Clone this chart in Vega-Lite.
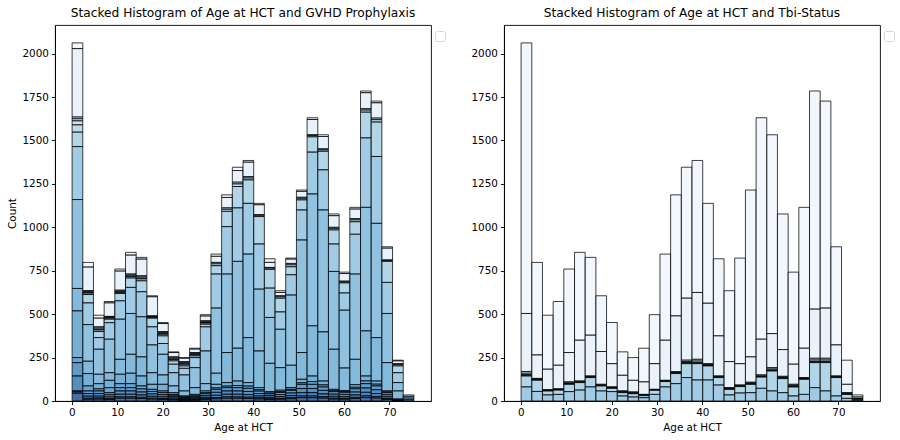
{
"$schema": "https://vega.github.io/schema/vega-lite/v6.json",
"padding": {"left": 7, "top": 6, "right": 5, "bottom": 5},
"background": "white",
"spacing": 73,
"bounds": "flush",
"resolve": {"legend": {"opacity": "independent"}, "scale": {"opacity": "independent"}},
"config": {
 "view": {"stroke": "#000", "strokeWidth": 0.9},
 "axis": {"domainColor": "#000", "tickColor": "#000", "labelColor": "#000", "titleColor": "#000", "labelFont": "DejaVu Sans", "titleFont": "DejaVu Sans", "labelFontSize": 10.4, "titleFontSize": 10.4, "titleFontWeight": "normal", "tickSize": 3.6, "labelPadding": 3, "grid": false, "domainWidth": 0.9, "tickWidth": 0.9},
 "title": {"font": "DejaVu Sans", "fontSize": 12.2, "fontWeight": "normal", "color": "#000", "offset": 6}
},
"datasets": {
 "bins": [
  {"bin":0,"age_start":0.04,"age_end":2.4},{"bin":1,"age_start":2.4,"age_end":4.75},{"bin":2,"age_start":4.75,"age_end":7.11},{"bin":3,"age_start":7.11,"age_end":9.46},{"bin":4,"age_start":9.46,"age_end":11.82},{"bin":5,"age_start":11.82,"age_end":14.17},{"bin":6,"age_start":14.17,"age_end":16.53},{"bin":7,"age_start":16.53,"age_end":18.88},{"bin":8,"age_start":18.88,"age_end":21.24},{"bin":9,"age_start":21.24,"age_end":23.59},{"bin":10,"age_start":23.59,"age_end":25.95},{"bin":11,"age_start":25.95,"age_end":28.3},{"bin":12,"age_start":28.3,"age_end":30.66},{"bin":13,"age_start":30.66,"age_end":33.01},{"bin":14,"age_start":33.01,"age_end":35.37},{"bin":15,"age_start":35.37,"age_end":37.72},{"bin":16,"age_start":37.72,"age_end":40.08},{"bin":17,"age_start":40.08,"age_end":42.43},{"bin":18,"age_start":42.43,"age_end":44.79},{"bin":19,"age_start":44.79,"age_end":47.14},{"bin":20,"age_start":47.14,"age_end":49.5},{"bin":21,"age_start":49.5,"age_end":51.85},{"bin":22,"age_start":51.85,"age_end":54.21},{"bin":23,"age_start":54.21,"age_end":56.56},{"bin":24,"age_start":56.56,"age_end":58.92},{"bin":25,"age_start":58.92,"age_end":61.27},{"bin":26,"age_start":61.27,"age_end":63.63},{"bin":27,"age_start":63.63,"age_end":65.98},{"bin":28,"age_start":65.98,"age_end":68.34},{"bin":29,"age_start":68.34,"age_end":70.69},{"bin":30,"age_start":70.69,"age_end":73.05},{"bin":31,"age_start":73.05,"age_end":75.4}
 ],
 "gvhd_names": [
  {"cat":1,"name":"FKalone"},{"cat":2,"name":"CSA + MTX +- others(not MMF,FK)"},{"cat":3,"name":"CSA alone"},{"cat":4,"name":"No GvHD Prophylaxis"},{"cat":5,"name":"CDselect +- other"},{"cat":6,"name":"TDEPLETION alone"},{"cat":7,"name":"Other GVHD Prophylaxis"},{"cat":8,"name":"Cyclophosphamide +- others"},{"cat":9,"name":"FK+ MMF +- others"},{"cat":10,"name":"FK+ MTX +- others(not MMF)"},{"cat":11,"name":"TDEPLETION +- other"},{"cat":12,"name":"CSA + MMF +- others(not FK)"},{"cat":13,"name":"Parent Q = yes, but no agent"},{"cat":14,"name":"CDselect alone"},{"cat":15,"name":"FK+- others(not MMF,MTX)"},{"cat":16,"name":"CSA +- others(not FK,MMF,MTX)"},{"cat":17,"name":"Cyclophosphamide alone"}
 ],
 "tbi_names": [
  {"cat":1,"name":"No TBI"},{"cat":2,"name":"TBI + Cy +- Other"},{"cat":3,"name":"TBI +- Other, <=cGy"},{"cat":4,"name":"TBI +- Other, >cGy"},{"cat":5,"name":"TBI +- Other, -cGy, single"},{"cat":6,"name":"TBI +- Other, -cGy, unknown dose"},{"cat":7,"name":"TBI +- Other, -cGy, fractionated"},{"cat":8,"name":"TBI +- Other, unknown dose"}
 ],
 "gvhd": [
{"bin":0,"cat":1,"n":33},{"bin":0,"cat":2,"n":394},{"bin":0,"cat":3,"n":10},{"bin":0,"cat":4,"n":12},{"bin":0,"cat":5,"n":23},{"bin":0,"cat":6,"n":42},{"bin":0,"cat":7,"n":83},{"bin":0,"cat":8,"n":305},{"bin":0,"cat":9,"n":512},{"bin":0,"cat":10,"n":129},{"bin":0,"cat":11,"n":269},{"bin":0,"cat":12,"n":29},{"bin":0,"cat":13,"n":77},{"bin":0,"cat":14,"n":86},{"bin":0,"cat":15,"n":5},{"bin":0,"cat":16,"n":8},{"bin":0,"cat":17,"n":45},
{"bin":1,"cat":1,"n":27},{"bin":1,"cat":2,"n":135},{"bin":1,"cat":3,"n":6},{"bin":1,"cat":4,"n":6},{"bin":1,"cat":5,"n":3},{"bin":1,"cat":6,"n":8},{"bin":1,"cat":7,"n":48},{"bin":1,"cat":8,"n":125},{"bin":1,"cat":9,"n":211},{"bin":1,"cat":10,"n":71},{"bin":1,"cat":11,"n":71},{"bin":1,"cat":12,"n":29},{"bin":1,"cat":13,"n":15},{"bin":1,"cat":14,"n":15},{"bin":1,"cat":15,"n":12},{"bin":1,"cat":16,"n":6},{"bin":1,"cat":17,"n":10},
{"bin":2,"cat":1,"n":17},{"bin":2,"cat":2,"n":50},{"bin":2,"cat":3,"n":7},{"bin":2,"cat":4,"n":7},{"bin":2,"cat":5,"n":4},{"bin":2,"cat":6,"n":9},{"bin":2,"cat":7,"n":35},{"bin":2,"cat":8,"n":67},{"bin":2,"cat":9,"n":144},{"bin":2,"cat":10,"n":54},{"bin":2,"cat":11,"n":30},{"bin":2,"cat":12,"n":12},{"bin":2,"cat":13,"n":15},{"bin":2,"cat":14,"n":15},{"bin":2,"cat":15,"n":11},{"bin":2,"cat":16,"n":6},{"bin":2,"cat":17,"n":11},
{"bin":3,"cat":1,"n":8},{"bin":3,"cat":2,"n":78},{"bin":3,"cat":3,"n":4},{"bin":3,"cat":4,"n":4},{"bin":3,"cat":5,"n":2},{"bin":3,"cat":6,"n":6},{"bin":3,"cat":7,"n":20},{"bin":3,"cat":8,"n":95},{"bin":3,"cat":9,"n":193},{"bin":3,"cat":10,"n":44},{"bin":3,"cat":11,"n":42},{"bin":3,"cat":12,"n":29},{"bin":3,"cat":13,"n":12},{"bin":3,"cat":14,"n":12},{"bin":3,"cat":15,"n":10},{"bin":3,"cat":16,"n":5},{"bin":3,"cat":17,"n":9},
{"bin":4,"cat":1,"n":12},{"bin":4,"cat":2,"n":110},{"bin":4,"cat":3,"n":5},{"bin":4,"cat":4,"n":5},{"bin":4,"cat":5,"n":3},{"bin":4,"cat":6,"n":6},{"bin":4,"cat":7,"n":42},{"bin":4,"cat":8,"n":106},{"bin":4,"cat":9,"n":231},{"bin":4,"cat":10,"n":86},{"bin":4,"cat":11,"n":54},{"bin":4,"cat":12,"n":23},{"bin":4,"cat":13,"n":19},{"bin":4,"cat":14,"n":19},{"bin":4,"cat":15,"n":15},{"bin":4,"cat":16,"n":8},{"bin":4,"cat":17,"n":16},
{"bin":5,"cat":1,"n":16},{"bin":5,"cat":2,"n":109},{"bin":5,"cat":3,"n":6},{"bin":5,"cat":4,"n":6},{"bin":5,"cat":5,"n":3},{"bin":5,"cat":6,"n":8},{"bin":5,"cat":7,"n":54},{"bin":5,"cat":8,"n":150},{"bin":5,"cat":9,"n":235},{"bin":5,"cat":10,"n":109},{"bin":5,"cat":11,"n":60},{"bin":5,"cat":12,"n":23},{"bin":5,"cat":13,"n":19},{"bin":5,"cat":14,"n":19},{"bin":5,"cat":15,"n":15},{"bin":5,"cat":16,"n":8},{"bin":5,"cat":17,"n":16},
{"bin":6,"cat":1,"n":10},{"bin":6,"cat":2,"n":96},{"bin":6,"cat":3,"n":7},{"bin":6,"cat":4,"n":7},{"bin":6,"cat":5,"n":4},{"bin":6,"cat":6,"n":11},{"bin":6,"cat":7,"n":63},{"bin":6,"cat":8,"n":144},{"bin":6,"cat":9,"n":231},{"bin":6,"cat":10,"n":110},{"bin":6,"cat":11,"n":57},{"bin":6,"cat":12,"n":17},{"bin":6,"cat":13,"n":18},{"bin":6,"cat":14,"n":17},{"bin":6,"cat":15,"n":14},{"bin":6,"cat":16,"n":7},{"bin":6,"cat":17,"n":14},
{"bin":7,"cat":1,"n":6},{"bin":7,"cat":2,"n":110},{"bin":7,"cat":3,"n":3},{"bin":7,"cat":4,"n":3},{"bin":7,"cat":5,"n":2},{"bin":7,"cat":6,"n":5},{"bin":7,"cat":7,"n":50},{"bin":7,"cat":8,"n":104},{"bin":7,"cat":9,"n":160},{"bin":7,"cat":10,"n":67},{"bin":7,"cat":11,"n":29},{"bin":7,"cat":12,"n":12},{"bin":7,"cat":13,"n":14},{"bin":7,"cat":14,"n":14},{"bin":7,"cat":15,"n":11},{"bin":7,"cat":16,"n":5},{"bin":7,"cat":17,"n":11},
{"bin":8,"cat":1,"n":6},{"bin":8,"cat":2,"n":46},{"bin":8,"cat":3,"n":6},{"bin":8,"cat":4,"n":6},{"bin":8,"cat":5,"n":4},{"bin":8,"cat":6,"n":9},{"bin":8,"cat":7,"n":44},{"bin":8,"cat":8,"n":62},{"bin":8,"cat":9,"n":119},{"bin":8,"cat":10,"n":54},{"bin":8,"cat":11,"n":38},{"bin":8,"cat":12,"n":10},{"bin":8,"cat":13,"n":12},{"bin":8,"cat":14,"n":12},{"bin":8,"cat":15,"n":10},{"bin":8,"cat":16,"n":5},{"bin":8,"cat":17,"n":9},
{"bin":9,"cat":1,"n":4},{"bin":9,"cat":2,"n":25},{"bin":9,"cat":3,"n":6},{"bin":9,"cat":4,"n":6},{"bin":9,"cat":5,"n":3},{"bin":9,"cat":6,"n":8},{"bin":9,"cat":7,"n":19},{"bin":9,"cat":8,"n":49},{"bin":9,"cat":9,"n":76},{"bin":9,"cat":10,"n":39},{"bin":9,"cat":11,"n":10},{"bin":9,"cat":12,"n":5},{"bin":9,"cat":13,"n":8},{"bin":9,"cat":14,"n":8},{"bin":9,"cat":15,"n":7},{"bin":9,"cat":16,"n":3},{"bin":9,"cat":17,"n":7},
{"bin":10,"cat":1,"n":4},{"bin":10,"cat":2,"n":19},{"bin":10,"cat":3,"n":6},{"bin":10,"cat":4,"n":6},{"bin":10,"cat":5,"n":4},{"bin":10,"cat":6,"n":9},{"bin":10,"cat":7,"n":14},{"bin":10,"cat":8,"n":38},{"bin":10,"cat":9,"n":92},{"bin":10,"cat":10,"n":29},{"bin":10,"cat":11,"n":5},{"bin":10,"cat":12,"n":4},{"bin":10,"cat":13,"n":5},{"bin":10,"cat":14,"n":5},{"bin":10,"cat":15,"n":4},{"bin":10,"cat":16,"n":2},{"bin":10,"cat":17,"n":4},
{"bin":11,"cat":1,"n":5},{"bin":11,"cat":2,"n":20},{"bin":11,"cat":3,"n":5},{"bin":11,"cat":4,"n":5},{"bin":11,"cat":5,"n":3},{"bin":11,"cat":6,"n":6},{"bin":11,"cat":7,"n":10},{"bin":11,"cat":8,"n":58},{"bin":11,"cat":9,"n":115},{"bin":11,"cat":10,"n":39},{"bin":11,"cat":11,"n":8},{"bin":11,"cat":12,"n":5},{"bin":11,"cat":13,"n":6},{"bin":11,"cat":14,"n":6},{"bin":11,"cat":15,"n":5},{"bin":11,"cat":16,"n":3},{"bin":11,"cat":17,"n":5},
{"bin":12,"cat":1,"n":8},{"bin":12,"cat":2,"n":27},{"bin":12,"cat":3,"n":5},{"bin":12,"cat":4,"n":5},{"bin":12,"cat":5,"n":3},{"bin":12,"cat":6,"n":7},{"bin":12,"cat":7,"n":15},{"bin":12,"cat":8,"n":139},{"bin":12,"cat":9,"n":188},{"bin":12,"cat":10,"n":42},{"bin":12,"cat":11,"n":10},{"bin":12,"cat":12,"n":6},{"bin":12,"cat":13,"n":11},{"bin":12,"cat":14,"n":10},{"bin":12,"cat":15,"n":8},{"bin":12,"cat":16,"n":4},{"bin":12,"cat":17,"n":9},
{"bin":13,"cat":1,"n":13},{"bin":13,"cat":2,"n":35},{"bin":13,"cat":4,"n":8},{"bin":13,"cat":6,"n":11},{"bin":13,"cat":7,"n":48},{"bin":13,"cat":8,"n":196},{"bin":13,"cat":9,"n":375},{"bin":13,"cat":10,"n":64},{"bin":13,"cat":11,"n":20},{"bin":13,"cat":12,"n":9},{"bin":13,"cat":13,"n":17},{"bin":13,"cat":14,"n":17},{"bin":13,"cat":15,"n":13},{"bin":13,"cat":16,"n":7},{"bin":13,"cat":17,"n":13},
{"bin":14,"cat":1,"n":15},{"bin":14,"cat":2,"n":60},{"bin":14,"cat":4,"n":8},{"bin":14,"cat":6,"n":12},{"bin":14,"cat":7,"n":88},{"bin":14,"cat":8,"n":273},{"bin":14,"cat":9,"n":452},{"bin":14,"cat":10,"n":173},{"bin":14,"cat":11,"n":20},{"bin":14,"cat":12,"n":9},{"bin":14,"cat":13,"n":19},{"bin":14,"cat":14,"n":19},{"bin":14,"cat":15,"n":15},{"bin":14,"cat":16,"n":8},{"bin":14,"cat":17,"n":16},
{"bin":15,"cat":1,"n":19},{"bin":15,"cat":2,"n":67},{"bin":15,"cat":4,"n":10},{"bin":15,"cat":6,"n":15},{"bin":15,"cat":7,"n":123},{"bin":15,"cat":8,"n":308},{"bin":15,"cat":9,"n":500},{"bin":15,"cat":10,"n":189},{"bin":15,"cat":11,"n":26},{"bin":15,"cat":12,"n":12},{"bin":15,"cat":13,"n":19},{"bin":15,"cat":14,"n":19},{"bin":15,"cat":15,"n":15},{"bin":15,"cat":16,"n":8},{"bin":15,"cat":17,"n":16},
{"bin":16,"cat":1,"n":10},{"bin":16,"cat":2,"n":83},{"bin":16,"cat":4,"n":8},{"bin":16,"cat":6,"n":11},{"bin":16,"cat":7,"n":135},{"bin":16,"cat":8,"n":292},{"bin":16,"cat":9,"n":481},{"bin":16,"cat":10,"n":259},{"bin":16,"cat":11,"n":20},{"bin":16,"cat":12,"n":13},{"bin":16,"cat":13,"n":18},{"bin":16,"cat":14,"n":18},{"bin":16,"cat":15,"n":15},{"bin":16,"cat":16,"n":7},{"bin":16,"cat":17,"n":15},
{"bin":17,"cat":1,"n":8},{"bin":17,"cat":2,"n":57},{"bin":17,"cat":4,"n":4},{"bin":17,"cat":6,"n":7},{"bin":17,"cat":7,"n":158},{"bin":17,"cat":8,"n":260},{"bin":17,"cat":9,"n":356},{"bin":17,"cat":10,"n":211},{"bin":17,"cat":11,"n":12},{"bin":17,"cat":12,"n":8},{"bin":17,"cat":13,"n":14},{"bin":17,"cat":14,"n":14},{"bin":17,"cat":15,"n":11},{"bin":17,"cat":16,"n":6},{"bin":17,"cat":17,"n":12},
{"bin":18,"cat":1,"n":21},{"bin":18,"cat":2,"n":29},{"bin":18,"cat":4,"n":4},{"bin":18,"cat":6,"n":7},{"bin":18,"cat":7,"n":108},{"bin":18,"cat":8,"n":169},{"bin":18,"cat":9,"n":264},{"bin":18,"cat":10,"n":163},{"bin":18,"cat":11,"n":8},{"bin":18,"cat":12,"n":5},{"bin":18,"cat":13,"n":10},{"bin":18,"cat":14,"n":10},{"bin":18,"cat":15,"n":8},{"bin":18,"cat":16,"n":4},{"bin":18,"cat":17,"n":9},
{"bin":19,"cat":1,"n":10},{"bin":19,"cat":2,"n":19},{"bin":19,"cat":4,"n":6},{"bin":19,"cat":6,"n":8},{"bin":19,"cat":7,"n":79},{"bin":19,"cat":8,"n":100},{"bin":19,"cat":9,"n":221},{"bin":19,"cat":10,"n":130},{"bin":19,"cat":11,"n":8},{"bin":19,"cat":12,"n":5},{"bin":19,"cat":13,"n":12},{"bin":19,"cat":14,"n":12},{"bin":19,"cat":15,"n":10},{"bin":19,"cat":16,"n":5},{"bin":19,"cat":17,"n":10},
{"bin":20,"cat":1,"n":6},{"bin":20,"cat":2,"n":25},{"bin":20,"cat":4,"n":8},{"bin":20,"cat":6,"n":11},{"bin":20,"cat":7,"n":46},{"bin":20,"cat":8,"n":117},{"bin":20,"cat":9,"n":404},{"bin":20,"cat":10,"n":129},{"bin":20,"cat":11,"n":10},{"bin":20,"cat":12,"n":6},{"bin":20,"cat":13,"n":15},{"bin":20,"cat":14,"n":15},{"bin":20,"cat":15,"n":12},{"bin":20,"cat":16,"n":6},{"bin":20,"cat":17,"n":13},
{"bin":21,"cat":1,"n":8},{"bin":21,"cat":2,"n":34},{"bin":21,"cat":4,"n":6},{"bin":21,"cat":6,"n":9},{"bin":21,"cat":7,"n":58},{"bin":21,"cat":8,"n":173},{"bin":21,"cat":9,"n":648},{"bin":21,"cat":10,"n":154},{"bin":21,"cat":11,"n":20},{"bin":21,"cat":12,"n":9},{"bin":21,"cat":13,"n":24},{"bin":21,"cat":14,"n":24},{"bin":21,"cat":15,"n":19},{"bin":21,"cat":16,"n":10},{"bin":21,"cat":17,"n":19},
{"bin":22,"cat":1,"n":10},{"bin":22,"cat":2,"n":88},{"bin":22,"cat":4,"n":5},{"bin":22,"cat":6,"n":7},{"bin":22,"cat":7,"n":88},{"bin":22,"cat":8,"n":241},{"bin":22,"cat":9,"n":759},{"bin":22,"cat":10,"n":289},{"bin":22,"cat":11,"n":32},{"bin":22,"cat":12,"n":16},{"bin":22,"cat":13,"n":24},{"bin":22,"cat":14,"n":24},{"bin":22,"cat":15,"n":19},{"bin":22,"cat":16,"n":10},{"bin":22,"cat":17,"n":19},
{"bin":23,"cat":1,"n":10},{"bin":23,"cat":2,"n":71},{"bin":23,"cat":4,"n":6},{"bin":23,"cat":6,"n":8},{"bin":23,"cat":7,"n":107},{"bin":23,"cat":8,"n":231},{"bin":23,"cat":9,"n":702},{"bin":23,"cat":10,"n":283},{"bin":23,"cat":11,"n":22},{"bin":23,"cat":12,"n":12},{"bin":23,"cat":13,"n":20},{"bin":23,"cat":14,"n":20},{"bin":23,"cat":15,"n":16},{"bin":23,"cat":16,"n":8},{"bin":23,"cat":17,"n":17},
{"bin":24,"cat":1,"n":10},{"bin":24,"cat":2,"n":67},{"bin":24,"cat":4,"n":6},{"bin":24,"cat":6,"n":9},{"bin":24,"cat":7,"n":81},{"bin":24,"cat":8,"n":158},{"bin":24,"cat":9,"n":448},{"bin":24,"cat":10,"n":231},{"bin":24,"cat":11,"n":8},{"bin":24,"cat":12,"n":5},{"bin":24,"cat":13,"n":14},{"bin":24,"cat":14,"n":13},{"bin":24,"cat":15,"n":11},{"bin":24,"cat":16,"n":5},{"bin":24,"cat":17,"n":11},
{"bin":25,"cat":1,"n":8},{"bin":25,"cat":2,"n":44},{"bin":25,"cat":4,"n":4},{"bin":25,"cat":6,"n":6},{"bin":25,"cat":7,"n":58},{"bin":25,"cat":8,"n":99},{"bin":25,"cat":9,"n":333},{"bin":25,"cat":10,"n":130},{"bin":25,"cat":11,"n":6},{"bin":25,"cat":12,"n":4},{"bin":25,"cat":13,"n":12},{"bin":25,"cat":14,"n":13},{"bin":25,"cat":15,"n":10},{"bin":25,"cat":16,"n":5},{"bin":25,"cat":17,"n":10},
{"bin":26,"cat":1,"n":10},{"bin":26,"cat":2,"n":55},{"bin":26,"cat":4,"n":7},{"bin":26,"cat":6,"n":11},{"bin":26,"cat":7,"n":72},{"bin":26,"cat":8,"n":229},{"bin":26,"cat":9,"n":491},{"bin":26,"cat":10,"n":146},{"bin":26,"cat":11,"n":15},{"bin":26,"cat":12,"n":9},{"bin":26,"cat":13,"n":18},{"bin":26,"cat":14,"n":17},{"bin":26,"cat":15,"n":14},{"bin":26,"cat":16,"n":7},{"bin":26,"cat":17,"n":14},
{"bin":27,"cat":1,"n":10},{"bin":27,"cat":2,"n":92},{"bin":27,"cat":4,"n":8},{"bin":27,"cat":6,"n":12},{"bin":27,"cat":7,"n":148},{"bin":27,"cat":8,"n":400},{"bin":27,"cat":9,"n":711},{"bin":27,"cat":10,"n":260},{"bin":27,"cat":11,"n":28},{"bin":27,"cat":12,"n":16},{"bin":27,"cat":13,"n":25},{"bin":27,"cat":14,"n":25},{"bin":27,"cat":15,"n":20},{"bin":27,"cat":16,"n":10},{"bin":27,"cat":17,"n":20},
{"bin":28,"cat":1,"n":10},{"bin":28,"cat":2,"n":88},{"bin":28,"cat":4,"n":9},{"bin":28,"cat":6,"n":14},{"bin":28,"cat":7,"n":198},{"bin":28,"cat":8,"n":385},{"bin":28,"cat":9,"n":658},{"bin":28,"cat":10,"n":250},{"bin":28,"cat":11,"n":18},{"bin":28,"cat":12,"n":10},{"bin":28,"cat":13,"n":22},{"bin":28,"cat":14,"n":22},{"bin":28,"cat":15,"n":17},{"bin":28,"cat":16,"n":9},{"bin":28,"cat":17,"n":17},
{"bin":29,"cat":1,"n":8},{"bin":29,"cat":2,"n":68},{"bin":29,"cat":4,"n":3},{"bin":29,"cat":6,"n":5},{"bin":29,"cat":7,"n":121},{"bin":29,"cat":8,"n":179},{"bin":29,"cat":9,"n":283},{"bin":29,"cat":10,"n":163},{"bin":29,"cat":11,"n":6},{"bin":29,"cat":12,"n":4},{"bin":29,"cat":13,"n":12},{"bin":29,"cat":14,"n":12},{"bin":29,"cat":15,"n":10},{"bin":29,"cat":16,"n":5},{"bin":29,"cat":17,"n":9},
{"bin":30,"cat":1,"n":4},{"bin":30,"cat":2,"n":16},{"bin":30,"cat":4,"n":5},{"bin":30,"cat":6,"n":8},{"bin":30,"cat":7,"n":39},{"bin":30,"cat":8,"n":57},{"bin":30,"cat":9,"n":48},{"bin":30,"cat":10,"n":47},{"bin":30,"cat":11,"n":2},{"bin":30,"cat":12,"n":2},{"bin":30,"cat":13,"n":2},{"bin":30,"cat":14,"n":2},{"bin":30,"cat":15,"n":1},{"bin":30,"cat":17,"n":2},
{"bin":31,"cat":2,"n":8},{"bin":31,"cat":8,"n":10},{"bin":31,"cat":10,"n":10},{"bin":31,"cat":14,"n":7}
 ],
 "tbi": [
{"bin":0,"cat":1,"n":1558},{"bin":0,"cat":2,"n":334},{"bin":0,"cat":3,"n":10},{"bin":0,"cat":4,"n":8},{"bin":0,"cat":5,"n":4},{"bin":0,"cat":6,"n":4},{"bin":0,"cat":7,"n":63},{"bin":0,"cat":8,"n":81},
{"bin":1,"cat":1,"n":533},{"bin":1,"cat":2,"n":135},{"bin":1,"cat":3,"n":4},{"bin":1,"cat":4,"n":3},{"bin":1,"cat":5,"n":2},{"bin":1,"cat":6,"n":1},{"bin":1,"cat":7,"n":65},{"bin":1,"cat":8,"n":55},
{"bin":2,"cat":1,"n":311},{"bin":2,"cat":2,"n":118},{"bin":2,"cat":3,"n":3},{"bin":2,"cat":4,"n":2},{"bin":2,"cat":5,"n":1},{"bin":2,"cat":6,"n":1},{"bin":2,"cat":7,"n":23},{"bin":2,"cat":8,"n":35},
{"bin":3,"cat":1,"n":367},{"bin":3,"cat":2,"n":136},{"bin":3,"cat":3,"n":3},{"bin":3,"cat":4,"n":2},{"bin":3,"cat":5,"n":1},{"bin":3,"cat":6,"n":1},{"bin":3,"cat":7,"n":25},{"bin":3,"cat":8,"n":38},
{"bin":4,"cat":1,"n":481},{"bin":4,"cat":2,"n":169},{"bin":4,"cat":3,"n":6},{"bin":4,"cat":4,"n":4},{"bin":4,"cat":5,"n":2},{"bin":4,"cat":6,"n":2},{"bin":4,"cat":7,"n":42},{"bin":4,"cat":8,"n":54},
{"bin":5,"cat":1,"n":506},{"bin":5,"cat":2,"n":235},{"bin":5,"cat":3,"n":4},{"bin":5,"cat":4,"n":3},{"bin":5,"cat":5,"n":1},{"bin":5,"cat":6,"n":1},{"bin":5,"cat":7,"n":43},{"bin":5,"cat":8,"n":63},
{"bin":6,"cat":1,"n":448},{"bin":6,"cat":2,"n":235},{"bin":6,"cat":3,"n":4},{"bin":6,"cat":4,"n":3},{"bin":6,"cat":5,"n":1},{"bin":6,"cat":6,"n":1},{"bin":6,"cat":7,"n":54},{"bin":6,"cat":8,"n":81},
{"bin":7,"cat":1,"n":321},{"bin":7,"cat":2,"n":189},{"bin":7,"cat":3,"n":4},{"bin":7,"cat":4,"n":3},{"bin":7,"cat":5,"n":1},{"bin":7,"cat":6,"n":1},{"bin":7,"cat":7,"n":29},{"bin":7,"cat":8,"n":58},
{"bin":8,"cat":1,"n":237},{"bin":8,"cat":2,"n":134},{"bin":8,"cat":3,"n":3},{"bin":8,"cat":4,"n":2},{"bin":8,"cat":5,"n":1},{"bin":8,"cat":6,"n":2},{"bin":8,"cat":7,"n":19},{"bin":8,"cat":8,"n":54},
{"bin":9,"cat":1,"n":135},{"bin":9,"cat":2,"n":90},{"bin":9,"cat":3,"n":4},{"bin":9,"cat":4,"n":3},{"bin":9,"cat":5,"n":2},{"bin":9,"cat":6,"n":1},{"bin":9,"cat":7,"n":19},{"bin":9,"cat":8,"n":29},
{"bin":10,"cat":1,"n":131},{"bin":10,"cat":2,"n":67},{"bin":10,"cat":3,"n":4},{"bin":10,"cat":4,"n":3},{"bin":10,"cat":5,"n":2},{"bin":10,"cat":6,"n":1},{"bin":10,"cat":7,"n":19},{"bin":10,"cat":8,"n":23},
{"bin":11,"cat":1,"n":194},{"bin":11,"cat":2,"n":72},{"bin":11,"cat":3,"n":3},{"bin":11,"cat":4,"n":2},{"bin":11,"cat":5,"n":1},{"bin":11,"cat":6,"n":1},{"bin":11,"cat":7,"n":12},{"bin":11,"cat":8,"n":19},
{"bin":12,"cat":1,"n":282},{"bin":12,"cat":2,"n":148},{"bin":12,"cat":3,"n":2},{"bin":12,"cat":4,"n":1},{"bin":12,"cat":5,"n":1},{"bin":12,"cat":6,"n":1},{"bin":12,"cat":7,"n":24},{"bin":12,"cat":8,"n":38},
{"bin":13,"cat":1,"n":496},{"bin":13,"cat":2,"n":231},{"bin":13,"cat":3,"n":3},{"bin":13,"cat":4,"n":2},{"bin":13,"cat":5,"n":1},{"bin":13,"cat":6,"n":1},{"bin":13,"cat":7,"n":31},{"bin":13,"cat":8,"n":81},
{"bin":14,"cat":1,"n":697},{"bin":14,"cat":2,"n":321},{"bin":14,"cat":3,"n":4},{"bin":14,"cat":4,"n":3},{"bin":14,"cat":5,"n":2},{"bin":14,"cat":6,"n":2},{"bin":14,"cat":7,"n":58},{"bin":14,"cat":8,"n":100},
{"bin":15,"cat":1,"n":754},{"bin":15,"cat":2,"n":357},{"bin":15,"cat":3,"n":8},{"bin":15,"cat":4,"n":6},{"bin":15,"cat":5,"n":3},{"bin":15,"cat":6,"n":3},{"bin":15,"cat":7,"n":80},{"bin":15,"cat":8,"n":135},
{"bin":16,"cat":1,"n":760},{"bin":16,"cat":2,"n":385},{"bin":16,"cat":3,"n":10},{"bin":16,"cat":4,"n":8},{"bin":16,"cat":5,"n":4},{"bin":16,"cat":6,"n":3},{"bin":16,"cat":7,"n":94},{"bin":16,"cat":8,"n":121},
{"bin":17,"cat":1,"n":575},{"bin":17,"cat":2,"n":348},{"bin":17,"cat":3,"n":5},{"bin":17,"cat":4,"n":4},{"bin":17,"cat":5,"n":2},{"bin":17,"cat":6,"n":2},{"bin":17,"cat":7,"n":81},{"bin":17,"cat":8,"n":121},
{"bin":18,"cat":1,"n":444},{"bin":18,"cat":2,"n":231},{"bin":18,"cat":3,"n":4},{"bin":18,"cat":4,"n":3},{"bin":18,"cat":5,"n":1},{"bin":18,"cat":6,"n":1},{"bin":18,"cat":7,"n":43},{"bin":18,"cat":8,"n":92},
{"bin":19,"cat":1,"n":408},{"bin":19,"cat":2,"n":150},{"bin":19,"cat":3,"n":4},{"bin":19,"cat":4,"n":3},{"bin":19,"cat":5,"n":2},{"bin":19,"cat":6,"n":1},{"bin":19,"cat":7,"n":32},{"bin":19,"cat":8,"n":35},
{"bin":20,"cat":1,"n":608},{"bin":20,"cat":2,"n":123},{"bin":20,"cat":3,"n":4},{"bin":20,"cat":4,"n":3},{"bin":20,"cat":5,"n":1},{"bin":20,"cat":6,"n":1},{"bin":20,"cat":7,"n":37},{"bin":20,"cat":8,"n":46},
{"bin":21,"cat":1,"n":961},{"bin":21,"cat":2,"n":146},{"bin":21,"cat":3,"n":5},{"bin":21,"cat":4,"n":4},{"bin":21,"cat":5,"n":2},{"bin":21,"cat":6,"n":1},{"bin":21,"cat":7,"n":48},{"bin":21,"cat":8,"n":48},
{"bin":22,"cat":1,"n":1275},{"bin":22,"cat":2,"n":206},{"bin":22,"cat":3,"n":5},{"bin":22,"cat":4,"n":4},{"bin":22,"cat":5,"n":2},{"bin":22,"cat":6,"n":1},{"bin":22,"cat":7,"n":65},{"bin":22,"cat":8,"n":73},
{"bin":23,"cat":1,"n":1145},{"bin":23,"cat":2,"n":196},{"bin":23,"cat":3,"n":8},{"bin":23,"cat":4,"n":6},{"bin":23,"cat":5,"n":3},{"bin":23,"cat":6,"n":2},{"bin":23,"cat":7,"n":115},{"bin":23,"cat":8,"n":58},
{"bin":24,"cat":1,"n":781},{"bin":24,"cat":2,"n":154},{"bin":24,"cat":3,"n":5},{"bin":24,"cat":4,"n":4},{"bin":24,"cat":5,"n":2},{"bin":24,"cat":6,"n":2},{"bin":24,"cat":7,"n":81},{"bin":24,"cat":8,"n":48},
{"bin":25,"cat":1,"n":530},{"bin":25,"cat":2,"n":116},{"bin":25,"cat":3,"n":6},{"bin":25,"cat":4,"n":5},{"bin":25,"cat":5,"n":2},{"bin":25,"cat":6,"n":2},{"bin":25,"cat":7,"n":52},{"bin":25,"cat":8,"n":29},
{"bin":26,"cat":1,"n":811},{"bin":26,"cat":2,"n":169},{"bin":26,"cat":3,"n":4},{"bin":26,"cat":4,"n":3},{"bin":26,"cat":5,"n":2},{"bin":26,"cat":6,"n":1},{"bin":26,"cat":7,"n":87},{"bin":26,"cat":8,"n":38},
{"bin":27,"cat":1,"n":1256},{"bin":27,"cat":2,"n":283},{"bin":27,"cat":3,"n":10},{"bin":27,"cat":4,"n":8},{"bin":27,"cat":5,"n":4},{"bin":27,"cat":6,"n":3},{"bin":27,"cat":7,"n":144},{"bin":27,"cat":8,"n":77},
{"bin":28,"cat":1,"n":1192},{"bin":28,"cat":2,"n":289},{"bin":28,"cat":3,"n":10},{"bin":28,"cat":4,"n":8},{"bin":28,"cat":5,"n":4},{"bin":28,"cat":6,"n":3},{"bin":28,"cat":7,"n":163},{"bin":28,"cat":8,"n":58},
{"bin":29,"cat":1,"n":565},{"bin":29,"cat":2,"n":179},{"bin":29,"cat":3,"n":4},{"bin":29,"cat":4,"n":3},{"bin":29,"cat":5,"n":1},{"bin":29,"cat":6,"n":1},{"bin":29,"cat":7,"n":106},{"bin":29,"cat":8,"n":29},
{"bin":30,"cat":1,"n":139},{"bin":30,"cat":2,"n":48},{"bin":30,"cat":3,"n":4},{"bin":30,"cat":4,"n":3},{"bin":30,"cat":5,"n":2},{"bin":30,"cat":6,"n":1},{"bin":30,"cat":7,"n":23},{"bin":30,"cat":8,"n":15},
{"bin":31,"cat":1,"n":12},{"bin":31,"cat":2,"n":8},{"bin":31,"cat":3,"n":2},{"bin":31,"cat":4,"n":1},{"bin":31,"cat":5,"n":1},{"bin":31,"cat":6,"n":1},{"bin":31,"cat":7,"n":6},{"bin":31,"cat":8,"n":4}
 ]
},
"hconcat": [
 {
  "width": 376, "height": 376,
  "title": "Stacked Histogram of Age at HCT and GVHD Prophylaxis",
  "data": {"name": "gvhd"},
  "transform": [
   {"lookup": "bin", "from": {"data": {"name": "bins"}, "key": "bin", "fields": ["age_start", "age_end"]}},
   {"lookup": "cat", "from": {"data": {"name": "gvhd_names"}, "key": "cat", "fields": ["name"]}},
   {"stack": "n", "groupby": ["bin"], "sort": [{"field": "cat", "order": "descending"}], "as": ["y0", "y1"]}
  ],
  "mark": {"type": "rect", "fillOpacity": 0.75, "stroke": "#000", "strokeOpacity": 0.75, "strokeWidth": 1},
  "encoding": {
   "x": {"field": "age_start", "type": "quantitative", "scale": {"domain": [-3.73, 79.17], "nice": false, "zero": false}, "axis": {"values": [0, 10, 20, 30, 40, 50, 60, 70], "title": "Age at HCT"}},
   "x2": {"field": "age_end"},
   "y": {"field": "y0", "type": "quantitative", "scale": {"domain": [0, 2165], "nice": false}, "axis": {"values": [0, 250, 500, 750, 1000, 1250, 1500, 1750, 2000], "format": "d", "title": "Count"}},
   "y2": {"field": "y1"},
   "color": {"field": "cat", "type": "ordinal", "legend": null, "scale": {"domain": [1,2,3,4,5,6,7,8,9,10,11,12,13,14,15,16,17], "range": ["#ecf4fb","#e1edf8","#d6e6f4","#cbdff1","#bdd7ec","#abd0e6","#98c7e0","#82badb","#6baed6","#59a2cf","#4795c8","#3787c0","#2878b9","#1b6aaf","#105ca4","#084d97","#083f81"]}},
   "opacity": {"datum": "all", "type": "nominal", "scale": {"domain": ["all"], "range": [1]}, "legend": {"orient": "none", "legendX": 380, "legendY": 6, "title": null, "padding": 4.5, "strokeColor": "#d5d5d5", "fillColor": "#ffffff", "cornerRadius": 2, "symbolType": "square", "symbolSize": 1, "symbolOpacity": 0, "symbolFillColor": "transparent", "symbolStrokeColor": "transparent", "symbolStrokeWidth": 0, "labelFontSize": 1, "labelOffset": 0, "labelExpr": "''", "labelOpacity": 0, "labelColor": "transparent"}},
   "tooltip": [{"field": "name"}, {"field": "n"}]
  }
 },
 {
  "width": 376, "height": 376,
  "title": "Stacked Histogram of Age at HCT and Tbi-Status",
  "data": {"name": "tbi"},
  "transform": [
   {"lookup": "bin", "from": {"data": {"name": "bins"}, "key": "bin", "fields": ["age_start", "age_end"]}},
   {"lookup": "cat", "from": {"data": {"name": "tbi_names"}, "key": "cat", "fields": ["name"]}},
   {"stack": "n", "groupby": ["bin"], "sort": [{"field": "cat", "order": "descending"}], "as": ["y0", "y1"]}
  ],
  "mark": {"type": "rect", "fillOpacity": 0.75, "stroke": "#000", "strokeOpacity": 0.75, "strokeWidth": 1},
  "encoding": {
   "x": {"field": "age_start", "type": "quantitative", "scale": {"domain": [-3.73, 79.17], "nice": false, "zero": false}, "axis": {"values": [0, 10, 20, 30, 40, 50, 60, 70], "title": "Age at HCT"}},
   "x2": {"field": "age_end"},
   "y": {"field": "y0", "type": "quantitative", "scale": {"domain": [0, 2165], "nice": false}, "axis": {"values": [0, 250, 500, 750, 1000, 1250, 1500, 1750, 2000], "format": "d", "title": null}},
   "y2": {"field": "y1"},
   "color": {"field": "cat", "type": "ordinal", "legend": null, "scale": {"domain": [1,2,3,4,5,6,7,8], "range": ["#e1edf8","#cbdff1","#abd0e6","#82badb","#59a2cf","#3787c0","#1b6aaf","#084d97"]}},
   "opacity": {"datum": "all", "type": "nominal", "scale": {"domain": ["all"], "range": [1]}, "legend": {"orient": "none", "legendX": 380, "legendY": 6, "title": null, "padding": 4.5, "strokeColor": "#d5d5d5", "fillColor": "#ffffff", "cornerRadius": 2, "symbolType": "square", "symbolSize": 1, "symbolOpacity": 0, "symbolFillColor": "transparent", "symbolStrokeColor": "transparent", "symbolStrokeWidth": 0, "labelFontSize": 1, "labelOffset": 0, "labelExpr": "''", "labelOpacity": 0, "labelColor": "transparent"}},
   "tooltip": [{"field": "name"}, {"field": "n"}]
  }
 }
]
}
